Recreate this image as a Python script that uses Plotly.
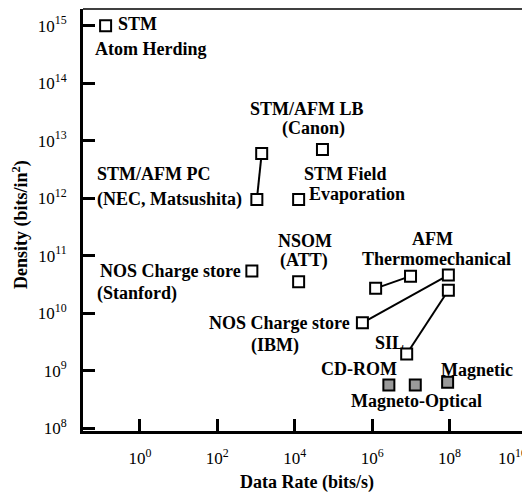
import plotly.graph_objects as go

# ---------------- data (bits/s, bits/in^2) ----------------
stm_rate, stm_density = [0.13], [1e15]
pc_rate, pc_density = [1.4e3, 1.05e3], [6.0e12, 9.5e11]
canon_rate, canon_density = [5.2e4], [7.0e12]
field_rate, field_density = [1.26e4], [9.5e11]
nsom_rate, nsom_density = [1.26e4], [3.5e10]
stanford_rate, stanford_density = [7.8e2], [5.4e10]
afm_rate, afm_density = [1.23e6, 9.8e6], [2.7e10, 4.4e10]
ibm_rate, ibm_density = [5.6e5, 9.3e7], [6.8e9, 4.6e10]
sil_rate, sil_density = [7.8e6, 9.3e7], [1.95e9, 2.5e10]
gray_rate, gray_density = [2.7e6, 1.3e7, 8.9e7], [5.6e8, 5.6e8, 6.3e8]

x_tickvals = [1, 1e2, 1e4, 1e6, 1e8]
x_ticktext = ["10<sup>0</sup>", "10<sup>2</sup>", "10<sup>4</sup>", "10<sup>6</sup>", "10<sup>8</sup>"]
y_tickvals = [1e8, 1e9, 1e10, 1e11, 1e12, 1e13, 1e14, 1e15]
y_ticktext = ["10<sup>%d</sup>" % p for p in range(8, 16)]

# label text and their positions (log10 units)
labels = [
    ("STM", -0.05, 15.03),
    ("Atom Herding", 0.28, 14.59),
    ("STM/AFM LB", 4.31, 13.55),
    ("(Canon)", 4.49, 13.22),
    ("STM/AFM PC", 0.36, 12.42),
    ("(NEC, Matsushita)", 0.77, 11.97),
    ("STM Field", 5.32, 12.42),
    ("Evaporation", 5.60, 12.07),
    ("NSOM", 4.26, 11.25),
    ("(ATT)", 4.23, 10.92),
    ("NOS Charge store", 0.80, 10.73),
    ("(Stanford)", -0.08, 10.35),
    ("AFM", 7.56, 11.29),
    ("Thermomechanical", 7.66, 10.94),
    ("NOS Charge store", 3.61, 9.83),
    ("(IBM)", 3.48, 9.44),
    ("SIL", 6.45, 9.48),
    ("CD-ROM", 5.65, 9.03),
    ("Magnetic", 8.72, 9.01),
    ("Magneto-Optical", 7.15, 8.47),
]

FONT = "Liberation Serif"
fig = go.Figure()

line_style = dict(color="black", width=2)
for xs, ys in [(pc_rate, pc_density), (afm_rate, afm_density),
               (ibm_rate, ibm_density), (sil_rate, sil_density)]:
    fig.add_trace(go.Scatter(x=xs, y=ys, mode="lines", line=line_style,
                             hoverinfo="skip", showlegend=False))

open_x = stm_rate + pc_rate + canon_rate + field_rate + nsom_rate + stanford_rate + afm_rate + ibm_rate + sil_rate
open_y = stm_density + pc_density + canon_density + field_density + nsom_density + stanford_density + afm_density + ibm_density + sil_density
fig.add_trace(go.Scatter(x=open_x, y=open_y, mode="markers",
                         marker=dict(symbol="square", size=11, color="white",
                                     line=dict(color="black", width=2)),
                         showlegend=False))
fig.add_trace(go.Scatter(x=gray_rate, y=gray_density, mode="markers",
                         marker=dict(symbol="square", size=11, color="#9a9a9a",
                                     line=dict(color="black", width=2)),
                         showlegend=False))

for txt, lx, ly in labels:
    fig.add_annotation(x=lx, y=ly, text="<b>%s</b>" % txt, showarrow=False,
                       xanchor="center", yanchor="middle",
                       font=dict(family=FONT, size=18, color="black"))

# 10^10 label at the right edge (clipped like the reference)
fig.add_annotation(x=0.93, y=-0.062, xref="paper", yref="paper", text="10<sup>10</sup>",
                   showarrow=False, xanchor="left", yanchor="middle",
                   font=dict(family=FONT, size=17, color="black"))

# axis titles
fig.add_annotation(x=0.5045, y=-0.121, xref="paper", yref="paper",
                   text="<b>Data Rate (bits/s)</b>", showarrow=False,
                   xanchor="center", yanchor="middle",
                   font=dict(family=FONT, size=18, color="black"))
fig.add_annotation(x=-0.14, y=0.49, xref="paper", yref="paper", textangle=-90,
                   text="<b>Density (bits/in<sup>2</sup>)</b>", showarrow=False,
                   xanchor="center", yanchor="middle",
                   font=dict(family=FONT, size=18, color="black"))

# thin top/right frame
fig.add_shape(type="line", xref="paper", yref="paper", x0=0, x1=1, y0=1, y1=1,
              line=dict(color="black", width=1.5))
fig.add_shape(type="line", xref="paper", yref="paper", x0=1, x1=1, y0=0, y1=1,
              line=dict(color="black", width=1.5))

fig.update_xaxes(type="log", range=[-1.47, 10.0], tickvals=x_tickvals, ticktext=x_ticktext,
                 ticks="inside", ticklen=12, tickwidth=3, tickcolor="black",
                 showline=True, linewidth=3, linecolor="black", showgrid=False, zeroline=False,
                 ticklabelstandoff=10,
                 tickfont=dict(family=FONT, size=17, color="black"))
fig.update_yaxes(type="log", range=[7.95, 15.29], tickvals=y_tickvals, ticktext=y_ticktext,
                 ticks="inside", ticklen=12, tickwidth=3, tickcolor="black",
                 showline=True, linewidth=3, linecolor="black", showgrid=False, zeroline=False,
                 ticklabelstandoff=10,
                 tickfont=dict(family=FONT, size=17, color="black"))

# page body has an 8px margin, so the figure is 8px smaller than the window
fig.update_layout(width=522, height=485, margin=dict(l=75, r=3, t=1, b=62, autoexpand=False),
                  paper_bgcolor="white", plot_bgcolor="white", showlegend=False)

fig.write_html("out.html")
